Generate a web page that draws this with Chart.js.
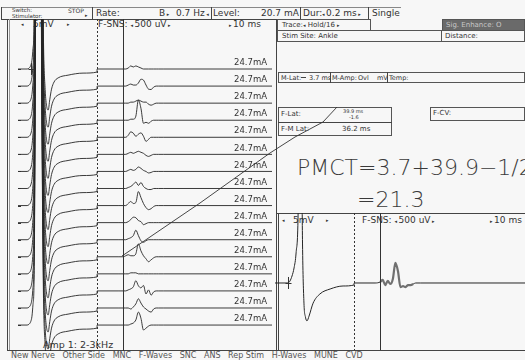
<!DOCTYPE html>
<html><head><meta charset="utf-8">
<script src="https://cdn.jsdelivr.net/npm/chart.js@4.4.1/dist/chart.umd.min.js"></script>
<style>
html,body{margin:0;padding:0;}
body{width:525px;height:360px;overflow:hidden;position:relative;background:#f7f7f7;font-family:"DejaVu Sans",sans-serif;color:#333;}
.t{position:absolute;white-space:pre;line-height:1;font-size:9px;}
.b{position:absolute;border:1px solid #555;box-sizing:border-box;}
.hl{position:absolute;height:0;border-top:1px solid #444;}
.vl{position:absolute;width:0;border-left:1px solid #444;}
canvas{position:absolute;}
.a{font-size:5px;}
</style></head><body>

<!-- header row -->
<div class="hl" style="left:1px;top:7px;width:400px;border-color:#888"></div>
<div class="hl" style="left:1px;top:19px;width:276px"></div>
<div class="vl" style="left:1px;top:7px;height:12px"></div>
<div class="t" style="left:12px;top:8px;font-size:5.5px">Switch:</div>
<div class="t" style="left:12px;top:13.5px;font-size:5.5px">Stimulator:</div>
<div class="t" style="left:68px;top:8px;font-size:6px">STOP</div>
<div class="t a" style="left:85px;top:13px">▸</div>
<div class="vl" style="left:92px;top:7px;height:12px"></div>
<div class="t" style="left:96px;top:9px">Rate:</div>
<div class="t" style="left:159px;top:9px">B<span class="a"> ▸</span></div>
<div class="t" style="left:176px;top:9px">0.7 Hz<span class="a"> ◂</span></div>
<div class="vl" style="left:211px;top:7px;height:12px"></div>
<div class="t" style="left:213px;top:9px">Level:</div>
<div class="t" style="left:261px;top:9px">20.7 mA</div>
<div class="vl" style="left:300px;top:7px;height:12px"></div>
<div class="t" style="left:303px;top:9px">Dur:</div>
<div class="t" style="left:322px;top:9px"><span class="a">◂ </span>0.2 ms<span class="a"> ▸</span></div>
<div class="vl" style="left:368px;top:7px;height:12px"></div>
<div class="t" style="left:372px;top:9px">Single</div>

<!-- left panel labels -->
<div class="vl" style="left:7px;top:19px;height:331px"></div>
<div class="vl" style="left:9px;top:19px;height:331px;border-color:#999"></div>
<div class="t a" style="left:21px;top:22px">◂</div>
<div class="t" style="left:33px;top:20px">5mV</div>
<div class="t a" style="left:67px;top:22px">▸</div>
<div class="t" style="left:98px;top:20px">F-SNS: <span class="a">◂ </span>500 uV<span class="a"> ▸</span></div>
<div class="t" style="left:229px;top:20px"><span class="a">▸ </span>10 ms</div>
<div class="t" style="left:43px;top:340px;font-size:9.5px">Amp 1: 2-3kHz</div>
<div class="hl" style="left:7px;top:350px;width:518px"></div>
<div class="t" style="left:11px;top:352px;font-size:8px;color:#555">New Nerve   Other Side   MNC   F-Waves   SNC   ANS   Rep Stim   H-Waves   MUNE   CVD</div>

<!-- right panel -->
<div class="vl" style="left:276px;top:19px;height:331px"></div>
<div class="b" style="left:277px;top:19px;width:94px;height:12px"></div>
<div class="t" style="left:282px;top:21.5px;font-size:7px">Trace:<span class="a">◂</span> Hold/16 <span class="a">▸</span></div>
<div class="b" style="left:442px;top:19px;width:83px;height:12px;background:#6a6a6a;border-color:#555"></div>
<div class="t" style="left:446px;top:21.5px;font-size:7px;color:#c8c8c8">Sig. Enhance: O</div>
<div class="b" style="left:277px;top:30px;width:165px;height:12px"></div>
<div class="t" style="left:282px;top:32.5px;font-size:7px">Stim Site: Ankle</div>
<div class="b" style="left:441px;top:30px;width:84px;height:12px"></div>
<div class="t" style="left:445px;top:32.5px;font-size:7px">Distance:</div>

<div class="b" style="left:278px;top:72px;width:247px;height:11px"></div>
<div class="t" style="left:281px;top:74.5px;font-size:6.5px">M-Lat:</div>
<div class="hl" style="left:301px;top:77px;width:5px"></div>
<div class="t" style="left:309px;top:74.5px;font-size:6.5px">3.7 ms</div>
<div class="vl" style="left:330px;top:72px;height:11px"></div>
<div class="t" style="left:332px;top:74.5px;font-size:6.5px">M-Amp:</div>
<div class="t" style="left:358px;top:74.5px;font-size:6.5px">Ovl</div>
<div class="t" style="left:377px;top:74.5px;font-size:6.5px">mV</div>
<div class="vl" style="left:387px;top:72px;height:11px"></div>
<div class="t" style="left:389px;top:74.5px;font-size:6.5px">Temp:</div>

<div class="b" style="left:278px;top:107px;width:114px;height:29px"></div>
<div class="hl" style="left:278px;top:122px;width:114px"></div>
<div class="t" style="left:281px;top:111px;font-size:7px">F-Lat:</div>
<div class="t" style="left:343px;top:108.5px;font-size:5px">39.9 ms</div>
<div class="t" style="left:349px;top:114.5px;font-size:5px">-1.6</div>
<div class="t" style="left:281px;top:126px;font-size:7px">F-M Lat:</div>
<div class="t" style="left:342px;top:126px;font-size:7px">36.2 ms</div>
<div class="b" style="left:430px;top:107px;width:95px;height:14px"></div>
<div class="t" style="left:433px;top:110px;font-size:7px">F-CV:</div>

<div class="t" style="left:297px;top:157px;font-size:22px;font-weight:200;color:#3a3a3a">PMCT=3.7+39.9−1/2</div>
<div class="t" style="left:357px;top:189px;font-size:22px;font-weight:200;color:#3a3a3a">=21.3</div>

<div class="hl" style="left:276px;top:213px;width:249px"></div>
<div class="vl" style="left:278px;top:213px;height:137px"></div>
<div class="t a" style="left:282px;top:218px">◂</div>
<div class="t" style="left:293px;top:216px">5mV</div>
<div class="t a" style="left:326px;top:218px">▸</div>
<div class="t" style="left:362px;top:216px">F-SNS: <span class="a">◂ </span>500 uV<span class="a"> ▸</span></div>
<div class="t" style="left:490px;top:216px"><span class="a">▸ </span>10 ms</div>

<canvas id="sweeps" width="254" height="332" style="left:18px;top:19px"></canvas>
<canvas id="single" width="254" height="137" style="left:275px;top:213px"></canvas>

<svg width="525" height="360" style="position:absolute;left:0;top:0;pointer-events:none">
<polyline points="122,256 200,203 270,153 295,137 323,122 337,107" fill="none" stroke="#333" stroke-width="0.9"/>
</svg>

<script>
// ---------------- data ----------------
const stimCurrentMA = [24.7,24.7,24.7,24.7,24.7,24.7,24.7,24.7,24.7,24.7,24.7,24.7,24.7,24.7,24.7,24.7];
const mLatencyMs = 3.7;
const fLatencyMs = 39.9;
const gainSplitMs = 29.7;      // dashed cursor: 5 mV section | 500 uV section
const sweepStartMs = -1.4;
const sweepEndMs = 98.6;
const mGainMVPerDiv = 5;
const fGainUVPerDiv = 500;

// M-wave (5 mV/div section, overloaded), shared by the 16 sweeps
const mWaveTimeMs = [-1.4, 2.2, 3.0, 3.6, 4.1, 4.5, 4.9, 5.2, 5.5, 7.6, 8.0, 8.6, 9.3, 9.9, 10.5, 11.1, 11.8, 12.8, 14.4, 18.3, 24.2, 29.7];
const mWaveAmpMV  = [0, 0, 0.3, 1.0, 2.6, 6.0, 12, 40, 110, 110, 60, 10, -6, -11, -12, -9, -5.9, -3.8, -2.6, -1.8, -1.2, -0.9];

// F-waves (500 uV/div section), one row per sweep
const fTimeMs = [38, 40, 41, 42, 43, 44, 45, 46, 47, 48, 49, 50, 51, 52, 53, 54, 56];
const fWaveUV = [
  [0,0,0,30,90,60,90,60,30,0,0,0,0,0,0,0,0],
  [0,0,0,30,60,30,30,90,200,175,30,-90,-100,-30,0,0,0],
  [0,0,0,0,30,30,60,90,60,30,30,-30,-60,-30,0,0,0],
  [0,0,0,0,30,30,120,590,350,-90,-60,-90,-30,0,0,0,0],
  [0,0,0,60,160,120,30,90,130,30,-120,-60,0,0,0,0,0],
  [0,0,0,30,60,30,60,90,60,30,-30,-60,-30,0,0,0,0],
  [0,0,0,30,60,30,60,130,90,30,0,-45,-30,0,0,0,0],
  [0,0,0,30,60,120,190,90,175,60,0,-30,-30,0,0,0,0],
  [0,0,0,60,120,60,90,410,235,60,-60,-120,-90,-30,0,0,0],
  [0,0,0,30,90,160,145,60,30,-60,-30,0,0,0,0,0,0],
  [0,0,0,30,60,120,280,120,-30,-75,-30,0,0,0,0,0,0],
  [0,0,30,60,30,30,90,380,175,30,-60,-145,-90,-30,0,0,0],
  [0,0,0,0,30,30,30,0,0,0,0,0,0,0,0,0,0],
  [0,0,0,30,60,120,300,150,90,160,-90,30,-125,-30,0,0,0],
  [0,0,0,0,-30,30,120,270,145,30,-30,-90,-120,-30,0,0,0],
  [0,0,0,0,30,60,150,380,200,-145,-90,-30,0,0,0,0,0]
];

// single selected trace (lower panel)
const singleMTimeMs = [-1.4, 3.7, 4.5, 5.3, 6.1, 6.9, 7.7, 8.25, 8.84, 9.43, 10.0, 10.6, 11.2, 12.0, 13.6, 16.3, 20.3, 25.4, 29.7];
const singleMAmpMV  = [0, 0, 0.6, 2.05, 4.4, 8.8, 20.5, 58.6, 58.6, 11.7, -5.9, -10, -11.1, -9.7, -5.9, -3.2, -1.76, -0.88, -0.59];
const singleFAmpUV  = [0,30,90,-60,60,-30,120,590,350,-120,-90,-120,-60,-60,-30,0,0];

// ---------------- build ----------------
function buildSweep(offset, mT, mA, fA) {
  const pts = [];
  mT.forEach((t, k) => pts.push({x: t, y: offset + mA[k] / mGainMVPerDiv}));
  pts.push({x: gainSplitMs + 0.05, y: offset});
  fTimeMs.forEach((t, k) => pts.push({x: t, y: offset + fA[k] / fGainUVPerDiv}));
  pts.push({x: sweepEndMs, y: offset});
  return pts;
}

const ink = '#262626';
function cursorPlugin(extra) {
  return {
    id: 'cursors',
    afterDatasetsDraw(chart) {
      const {ctx, scales: {x, y}, chartArea: a} = chart;
      ctx.save();
      ctx.strokeStyle = '#333';
      ctx.lineWidth = 1;
      const xd = Math.round(x.getPixelForValue(gainSplitMs)) + 0.5;
      ctx.setLineDash([2, 2]);
      ctx.beginPath(); ctx.moveTo(xd, a.top); ctx.lineTo(xd, a.bottom); ctx.stroke();
      ctx.setLineDash([]);
      const xf = Math.round(x.getPixelForValue(fLatencyMs)) + 0.5;
      ctx.beginPath(); ctx.moveTo(xf, a.top); ctx.lineTo(xf, a.bottom); ctx.stroke();
      if (extra) extra(ctx, x, y, a);
      ctx.restore();
    }
  };
}

const sweepDatasets = fWaveUV.map((fA, i) => ({
  data: buildSweep(-i, mWaveTimeMs, mWaveAmpMV, fA),
  borderColor: ink, borderWidth: 0.9, pointRadius: 0,
  cubicInterpolationMode: 'monotone', fill: false
}));

new Chart(document.getElementById('sweeps'), {
  type: 'line',
  data: {datasets: sweepDatasets},
  options: {
    responsive: false, animation: false, events: [],
    layout: {padding: 0},
    plugins: {legend: {display: false}, tooltip: {enabled: false}},
    scales: {
      x: {type: 'linear', min: sweepStartMs, max: sweepEndMs, display: false},
      y: {type: 'linear', min: -16.52, max: 2.93, display: false}
    }
  },
  plugins: [cursorPlugin((ctx, x, y, a) => {
    ctx.fillStyle = '#333';
    ctx.font = '8.5px "DejaVu Sans"';
    ctx.textAlign = 'right';
    ctx.textBaseline = 'middle';
    stimCurrentMA.forEach((mA, i) => {
      const yb = y.getPixelForValue(-i);
      ctx.fillText(mA.toFixed(1) + 'mA', x.getPixelForValue(sweepEndMs) - 5, yb - 6);
      ctx.beginPath(); ctx.moveTo(a.left, Math.round(yb) + 0.5); ctx.lineTo(a.left + 3, Math.round(yb) + 0.5); ctx.stroke();
    });
    const xm = Math.round(x.getPixelForValue(mLatencyMs)) + 0.5;
    const y0 = y.getPixelForValue(0);
    ctx.beginPath(); ctx.moveTo(xm, y0 - 6); ctx.lineTo(xm, y0 + 6);
    ctx.moveTo(xm - 3, y0 + 0.5); ctx.lineTo(xm + 3, y0 + 0.5); ctx.stroke();
  })]
});

new Chart(document.getElementById('single'), {
  type: 'line',
  data: {datasets: [{
    data: buildSweep(0, singleMTimeMs, singleMAmpMV, singleFAmpUV),
    borderColor: ink, borderWidth: 1, pointRadius: 0,
    cubicInterpolationMode: 'monotone', fill: false,
    segment: {
      borderColor: c => (c.p0.parsed.x >= fTimeMs[1] && c.p1.parsed.x <= fTimeMs[14]) ? '#707070' : undefined,
      borderWidth: c => (c.p0.parsed.x >= fTimeMs[1] && c.p1.parsed.x <= fTimeMs[14]) ? 2.2 : undefined
    }
  }]},
  options: {
    responsive: false, animation: false, events: [],
    layout: {padding: 0},
    plugins: {legend: {display: false}, tooltip: {enabled: false}},
    scales: {
      x: {type: 'linear', min: sweepStartMs, max: sweepEndMs, display: false},
      y: {type: 'linear', min: -3.925, max: 4.1, display: false}
    }
  },
  plugins: [cursorPlugin((ctx, x, y) => {
    const xm = Math.round(x.getPixelForValue(mLatencyMs)) + 0.5;
    const y0 = y.getPixelForValue(0);
    ctx.beginPath(); ctx.moveTo(xm, y0 - 6); ctx.lineTo(xm, y0 + 6);
    ctx.moveTo(xm - 3, y0 + 0.5); ctx.lineTo(xm + 3, y0 + 0.5); ctx.stroke();
  })]
});
</script>
</body></html>
